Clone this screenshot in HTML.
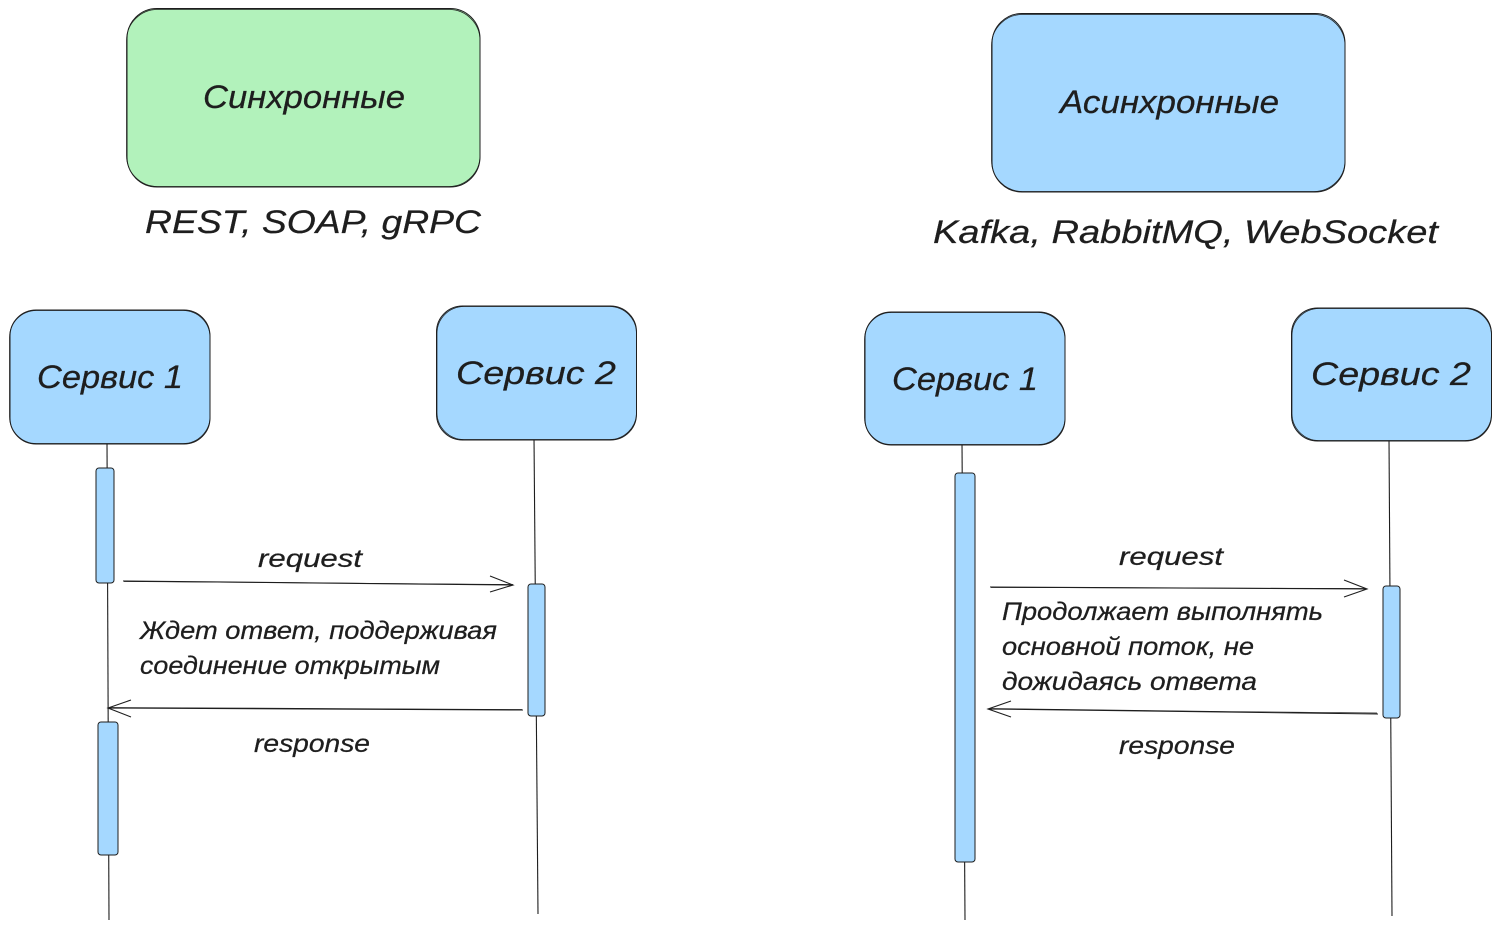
<!DOCTYPE html>
<html lang="ru"><head><meta charset="utf-8"><style>
html,body{margin:0;padding:0;background:#fff}
svg{display:block}
text{font-family:"Liberation Sans","DejaVu Sans",sans-serif;fill:#1e1e1e;font-style:italic;stroke:#1e1e1e;stroke-width:.25}
.b{fill:#a5d8ff;stroke:#1e1e1e;stroke-width:1}
.g{fill:#b2f2bb;stroke:#1e1e1e;stroke-width:1}
.l{fill:none;stroke:#1e1e1e;stroke-width:1.1}
.s{fill:none;stroke:#1e1e1e;stroke-width:.7}
</style></head><body>
<svg width="1501" height="931" viewBox="0 0 1501 931" xmlns="http://www.w3.org/2000/svg">
<rect class="g" x="127" y="8.5" width="353" height="178.5" rx="30"/>
<rect class="s" x="126.5" y="9.5" width="353.5" height="177" rx="31"/>
<rect class="b" x="992" y="13.5" width="353" height="178.5" rx="30"/>
<rect class="s" x="991.5" y="14.5" width="353.5" height="177" rx="31"/>
<text x="203" y="108" font-size="32" textLength="202" lengthAdjust="spacingAndGlyphs">Синхронные</text>
<text x="1060" y="113" font-size="32" textLength="219" lengthAdjust="spacingAndGlyphs">Асинхронные</text>
<text x="145" y="233" font-size="32" textLength="336" lengthAdjust="spacingAndGlyphs">REST, SOAP, gRPC</text>
<text x="933" y="243" font-size="32" textLength="505" lengthAdjust="spacingAndGlyphs">Kafka, RabbitMQ, WebSocket</text>

<line class="l" x1="107" y1="441" x2="109" y2="920"/>
<line class="l" x1="534" y1="437" x2="538" y2="914"/>
<line class="l" x1="962" y1="442" x2="965" y2="920"/>
<line class="l" x1="1389" y1="438" x2="1392" y2="916"/>

<rect class="b" x="10" y="310" width="200" height="134" rx="26"/>
<rect class="s" x="9.5" y="310.5" width="200.5" height="133" rx="27"/>
<rect class="b" x="436.5" y="306" width="200" height="134" rx="26"/>
<rect class="s" x="437" y="306.5" width="199.5" height="133" rx="27"/>
<rect class="b" x="865" y="312" width="200" height="133" rx="26"/>
<rect class="s" x="864.5" y="312.5" width="200.5" height="132" rx="27"/>
<rect class="b" x="1291.5" y="308" width="200" height="133" rx="26"/>
<rect class="s" x="1292" y="308.5" width="199.5" height="132" rx="27"/>
<text x="37" y="388" font-size="32" textLength="146" lengthAdjust="spacingAndGlyphs">Сервис 1</text>
<text x="456" y="384" font-size="32" textLength="160" lengthAdjust="spacingAndGlyphs">Сервис 2</text>
<text x="892" y="390" font-size="32" textLength="146" lengthAdjust="spacingAndGlyphs">Сервис 1</text>
<text x="1311" y="385" font-size="32" textLength="160" lengthAdjust="spacingAndGlyphs">Сервис 2</text>

<rect class="b" x="96" y="468" width="18" height="115" rx="3"/>
<rect class="b" x="98" y="722" width="20" height="133" rx="3"/>
<rect class="b" x="528" y="584" width="17" height="132" rx="3"/>
<rect class="b" x="955" y="473" width="20" height="389" rx="3"/>
<rect class="b" x="1383" y="586" width="17" height="132" rx="3"/>

<path class="l" d="M123 581 L513 585 M490 576 L513 585 L490 592"/>
<path class="s" d="M124 581.5 C250 582 400 584 513 584.5"/>
<path class="l" d="M523 710 L108 708 M131 700 L108 708 L131 717"/>
<path class="s" d="M522 709.5 C400 709 250 708 109 707.5"/>
<path class="l" d="M990 587 L1367 589 M1344 580 L1367 589 L1344 597"/>
<path class="s" d="M991 587.5 C1100 588 1250 588 1366 588.5"/>
<path class="l" d="M1378 714 L988 709 M1011 701 L988 709 L1011 717"/>
<path class="s" d="M1377 713 C1250 712 1100 710 989 708.5"/>

<text x="258" y="567" font-size="25" textLength="104" lengthAdjust="spacingAndGlyphs">request</text>
<text x="254" y="752" font-size="25" textLength="116" lengthAdjust="spacingAndGlyphs">response</text>
<text x="1119" y="565" font-size="25" textLength="104" lengthAdjust="spacingAndGlyphs">request</text>
<text x="1119" y="754" font-size="25" textLength="116" lengthAdjust="spacingAndGlyphs">response</text>
<text x="140" y="639" font-size="25" textLength="357" lengthAdjust="spacingAndGlyphs">Ждет ответ, поддерживая</text>
<text x="140" y="674" font-size="25" textLength="300" lengthAdjust="spacingAndGlyphs">соединение открытым</text>
<text x="1002" y="620" font-size="25" textLength="321" lengthAdjust="spacingAndGlyphs">Продолжает выполнять</text>
<text x="1002" y="655" font-size="25" textLength="252" lengthAdjust="spacingAndGlyphs">основной поток, не</text>
<text x="1002" y="690" font-size="25" textLength="255" lengthAdjust="spacingAndGlyphs">дожидаясь ответа</text>
</svg>
</body></html>
